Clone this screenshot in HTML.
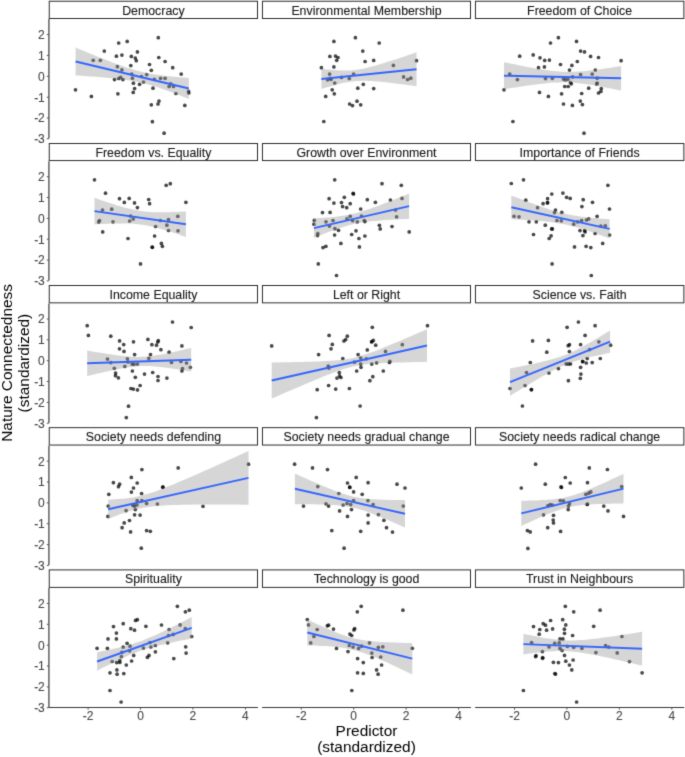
<!DOCTYPE html><html><head><meta charset="utf-8"><style>html,body{margin:0;padding:0;background:#fff;}svg{display:block;will-change:transform;}text{font-family:"Liberation Sans",sans-serif;}</style></head><body>
<svg width="685" height="757" viewBox="0 0 685 757">
<defs><filter id="bl" x="0" y="0" width="685" height="757" filterUnits="userSpaceOnUse" color-interpolation-filters="sRGB"><feConvolveMatrix order="3" kernelMatrix="0.0144 0.0912 0.0144 0.0912 0.5776 0.0912 0.0144 0.0912 0.0144" divisor="1" edgeMode="duplicate" preserveAlpha="true"/></filter></defs><g filter="url(#bl)">
<rect width="685" height="757" fill="#fff"/>
<g fill="#000" fill-opacity="0.72"><circle cx="118.7" cy="43.0" r="1.85"/><circle cx="127.2" cy="41.4" r="1.85"/><circle cx="104.3" cy="51.1" r="1.85"/><circle cx="137.4" cy="51.9" r="1.85"/><circle cx="116.4" cy="56.2" r="1.85"/><circle cx="121.9" cy="55.1" r="1.85"/><circle cx="131.3" cy="56.4" r="1.85"/><circle cx="135.3" cy="58.0" r="1.85"/><circle cx="136.3" cy="60.7" r="1.85"/><circle cx="93.2" cy="60.3" r="1.85"/><circle cx="100.3" cy="60.3" r="1.85"/><circle cx="130.8" cy="65.6" r="1.85"/><circle cx="149.5" cy="64.5" r="1.85"/><circle cx="117.4" cy="66.7" r="1.85"/><circle cx="121.9" cy="69.9" r="1.85"/><circle cx="151.3" cy="70.3" r="1.85"/><circle cx="131.7" cy="74.0" r="1.85"/><circle cx="146.7" cy="74.6" r="1.85"/><circle cx="141.4" cy="76.5" r="1.85"/><circle cx="114.5" cy="79.6" r="1.85"/><circle cx="118.7" cy="78.5" r="1.85"/><circle cx="120.6" cy="77.4" r="1.85"/><circle cx="122.9" cy="79.6" r="1.85"/><circle cx="132.4" cy="78.2" r="1.85"/><circle cx="143.5" cy="82.0" r="1.85"/><circle cx="133.4" cy="83.2" r="1.85"/><circle cx="139.6" cy="84.3" r="1.85"/><circle cx="134.6" cy="88.6" r="1.85"/><circle cx="75.5" cy="89.8" r="1.85"/><circle cx="91.4" cy="96.4" r="1.85"/><circle cx="117.9" cy="93.8" r="1.85"/><circle cx="133.2" cy="92.4" r="1.85"/><circle cx="151.3" cy="104.8" r="1.85"/><circle cx="152.4" cy="121.7" r="1.85"/><circle cx="153.0" cy="88.2" r="1.85"/><circle cx="158.3" cy="37.7" r="1.85"/><circle cx="158.8" cy="57.5" r="1.85"/><circle cx="165.1" cy="61.5" r="1.85"/><circle cx="172.7" cy="67.7" r="1.85"/><circle cx="181.2" cy="74.1" r="1.85"/><circle cx="160.6" cy="78.3" r="1.85"/><circle cx="165.1" cy="78.3" r="1.85"/><circle cx="154.3" cy="79.3" r="1.85"/><circle cx="170.7" cy="83.8" r="1.85"/><circle cx="169.1" cy="86.5" r="1.85"/><circle cx="173.5" cy="86.5" r="1.85"/><circle cx="175.9" cy="93.5" r="1.85"/><circle cx="188.5" cy="91.4" r="1.85"/><circle cx="188.8" cy="93.0" r="1.85"/><circle cx="159.0" cy="101.1" r="1.85"/><circle cx="158.0" cy="104.0" r="1.85"/><circle cx="184.8" cy="105.4" r="1.85"/><circle cx="164.1" cy="133.2" r="1.85"/></g>
<path d="M75.6,47.6 L78.4,48.8 L81.3,50.0 L84.1,51.1 L86.9,52.3 L89.8,53.5 L92.6,54.6 L95.4,55.7 L98.3,56.9 L101.1,58.0 L103.9,59.1 L106.7,60.2 L109.6,61.3 L112.4,62.4 L115.2,63.4 L118.1,64.4 L120.9,65.5 L123.7,66.4 L126.6,67.4 L129.4,68.3 L132.2,69.2 L135.0,70.0 L137.9,70.8 L140.7,71.5 L143.5,72.2 L146.4,72.8 L149.2,73.4 L152.0,73.9 L154.8,74.4 L157.7,74.8 L160.5,75.2 L163.3,75.6 L166.2,76.0 L169.0,76.3 L171.8,76.6 L174.7,76.8 L177.5,77.1 L180.3,77.4 L183.1,77.6 L186.0,77.8 L188.8,78.0 L188.8,98.9 L186.0,97.8 L183.1,96.7 L180.3,95.6 L177.5,94.5 L174.7,93.4 L171.8,92.3 L169.0,91.3 L166.2,90.2 L163.3,89.2 L160.5,88.3 L157.7,87.3 L154.8,86.4 L152.0,85.5 L149.2,84.7 L146.4,83.9 L143.5,83.2 L140.7,82.5 L137.9,81.9 L135.0,81.4 L132.2,80.8 L129.4,80.4 L126.6,79.9 L123.7,79.5 L120.9,79.2 L118.1,78.8 L115.2,78.5 L112.4,78.2 L109.6,78.0 L106.7,77.7 L103.9,77.5 L101.1,77.2 L98.3,77.0 L95.4,76.8 L92.6,76.6 L89.8,76.4 L86.9,76.2 L84.1,76.0 L81.3,75.8 L78.4,75.6 L75.6,75.4Z" fill="#999" fill-opacity="0.4"/>
<line x1="75.6" y1="61.5" x2="188.8" y2="88.5" stroke="#3366FF" stroke-width="1.9"/>
<rect x="49.25" y="1.25" width="208.25" height="17.25" fill="#fff" stroke="#2e2e2e" stroke-width="1.0"/>
<text x="153.4" y="14.7" font-size="12.35" fill="#1a1a1a" stroke="#1a1a1a" stroke-width="0.12" text-anchor="middle">Democracy</text>
<line x1="48.9" y1="19.1" x2="48.9" y2="138.6" stroke="#6a6a6a" stroke-width="1.6"/>
<line x1="46.8" y1="34.6" x2="48.9" y2="34.6" stroke="#555" stroke-width="1"/>
<text x="44.8" y="38.9" font-size="12" fill="#484848" stroke="#484848" stroke-width="0.1" text-anchor="end">2</text>
<line x1="46.8" y1="55.4" x2="48.9" y2="55.4" stroke="#555" stroke-width="1"/>
<text x="44.8" y="59.7" font-size="12" fill="#484848" stroke="#484848" stroke-width="0.1" text-anchor="end">1</text>
<line x1="46.8" y1="76.3" x2="48.9" y2="76.3" stroke="#555" stroke-width="1"/>
<text x="44.8" y="80.6" font-size="12" fill="#484848" stroke="#484848" stroke-width="0.1" text-anchor="end">0</text>
<line x1="46.8" y1="97.2" x2="48.9" y2="97.2" stroke="#555" stroke-width="1"/>
<text x="44.8" y="101.5" font-size="12" fill="#484848" stroke="#484848" stroke-width="0.1" text-anchor="end">-1</text>
<line x1="46.8" y1="118.0" x2="48.9" y2="118.0" stroke="#555" stroke-width="1"/>
<text x="44.8" y="122.3" font-size="12" fill="#484848" stroke="#484848" stroke-width="0.1" text-anchor="end">-2</text>
<line x1="46.8" y1="138.8" x2="48.9" y2="138.8" stroke="#555" stroke-width="1"/>
<text x="44.8" y="143.2" font-size="12" fill="#484848" stroke="#484848" stroke-width="0.1" text-anchor="end">-3</text>
<g fill="#000" fill-opacity="0.72"><circle cx="333.9" cy="41.4" r="1.85"/><circle cx="355.4" cy="37.7" r="1.85"/><circle cx="362.8" cy="51.1" r="1.85"/><circle cx="329.9" cy="56.4" r="1.85"/><circle cx="335.5" cy="56.1" r="1.85"/><circle cx="338.0" cy="57.5" r="1.85"/><circle cx="336.7" cy="60.3" r="1.85"/><circle cx="365.1" cy="61.5" r="1.85"/><circle cx="321.4" cy="67.7" r="1.85"/><circle cx="333.9" cy="66.9" r="1.85"/><circle cx="329.6" cy="74.1" r="1.85"/><circle cx="353.6" cy="74.0" r="1.85"/><circle cx="327.6" cy="79.8" r="1.85"/><circle cx="331.0" cy="79.3" r="1.85"/><circle cx="330.1" cy="78.3" r="1.85"/><circle cx="341.5" cy="77.4" r="1.85"/><circle cx="349.3" cy="78.5" r="1.85"/><circle cx="334.7" cy="83.0" r="1.85"/><circle cx="363.3" cy="84.3" r="1.85"/><circle cx="332.2" cy="89.8" r="1.85"/><circle cx="357.8" cy="88.2" r="1.85"/><circle cx="334.3" cy="93.8" r="1.85"/><circle cx="325.7" cy="96.4" r="1.85"/><circle cx="349.6" cy="104.0" r="1.85"/><circle cx="352.5" cy="105.6" r="1.85"/><circle cx="357.0" cy="101.2" r="1.85"/><circle cx="360.7" cy="104.8" r="1.85"/><circle cx="323.8" cy="121.5" r="1.85"/><circle cx="379.2" cy="43.0" r="1.85"/><circle cx="373.7" cy="60.4" r="1.85"/><circle cx="393.4" cy="65.4" r="1.85"/><circle cx="416.5" cy="60.7" r="1.85"/><circle cx="403.6" cy="76.9" r="1.85"/><circle cx="407.6" cy="79.5" r="1.85"/><circle cx="410.8" cy="78.2" r="1.85"/><circle cx="373.7" cy="88.6" r="1.85"/></g>
<path d="M321.4,68.9 L323.7,69.1 L326.1,69.4 L328.5,69.6 L330.9,69.8 L333.2,70.0 L335.6,70.2 L338.0,70.3 L340.4,70.4 L342.8,70.5 L345.1,70.5 L347.5,70.5 L349.9,70.4 L352.3,70.2 L354.7,70.0 L357.0,69.7 L359.4,69.3 L361.8,68.9 L364.2,68.4 L366.5,67.9 L368.9,67.3 L371.3,66.7 L373.7,66.1 L376.1,65.4 L378.4,64.8 L380.8,64.0 L383.2,63.3 L385.6,62.6 L387.9,61.8 L390.3,61.1 L392.7,60.3 L395.1,59.5 L397.5,58.7 L399.8,57.9 L402.2,57.2 L404.6,56.4 L407.0,55.5 L409.3,54.7 L411.7,53.9 L414.1,53.1 L416.5,52.3 L416.5,86.3 L414.1,86.0 L411.7,85.6 L409.3,85.3 L407.0,85.0 L404.6,84.6 L402.2,84.3 L399.8,84.0 L397.5,83.7 L395.1,83.4 L392.7,83.1 L390.3,82.8 L387.9,82.6 L385.6,82.3 L383.2,82.0 L380.8,81.8 L378.4,81.6 L376.1,81.4 L373.7,81.2 L371.3,81.0 L368.9,80.9 L366.5,80.8 L364.2,80.8 L361.8,80.8 L359.4,80.9 L357.0,81.0 L354.7,81.2 L352.3,81.4 L349.9,81.8 L347.5,82.2 L345.1,82.6 L342.8,83.1 L340.4,83.6 L338.0,84.2 L335.6,84.9 L333.2,85.5 L330.9,86.2 L328.5,86.9 L326.1,87.6 L323.7,88.3 L321.4,89.1Z" fill="#999" fill-opacity="0.4"/>
<line x1="321.4" y1="79.0" x2="416.5" y2="69.3" stroke="#3366FF" stroke-width="1.9"/>
<rect x="262.45" y="1.25" width="208.05" height="17.25" fill="#fff" stroke="#2e2e2e" stroke-width="1.0"/>
<text x="366.5" y="14.7" font-size="12.35" fill="#1a1a1a" stroke="#1a1a1a" stroke-width="0.12" text-anchor="middle">Environmental Membership</text>
<g fill="#000" fill-opacity="0.72"><circle cx="558.4" cy="37.7" r="1.85"/><circle cx="550.5" cy="43.0" r="1.85"/><circle cx="576.5" cy="41.4" r="1.85"/><circle cx="519.7" cy="56.2" r="1.85"/><circle cx="533.2" cy="54.9" r="1.85"/><circle cx="540.0" cy="57.8" r="1.85"/><circle cx="544.7" cy="60.4" r="1.85"/><circle cx="549.4" cy="60.1" r="1.85"/><circle cx="577.3" cy="61.5" r="1.85"/><circle cx="560.5" cy="64.5" r="1.85"/><circle cx="571.9" cy="65.4" r="1.85"/><circle cx="538.5" cy="67.7" r="1.85"/><circle cx="544.4" cy="66.9" r="1.85"/><circle cx="569.5" cy="70.1" r="1.85"/><circle cx="509.7" cy="74.1" r="1.85"/><circle cx="517.4" cy="79.6" r="1.85"/><circle cx="545.5" cy="78.6" r="1.85"/><circle cx="552.3" cy="78.3" r="1.85"/><circle cx="563.4" cy="79.0" r="1.85"/><circle cx="565.3" cy="79.8" r="1.85"/><circle cx="567.9" cy="79.3" r="1.85"/><circle cx="572.6" cy="76.9" r="1.85"/><circle cx="570.5" cy="82.5" r="1.85"/><circle cx="571.3" cy="83.8" r="1.85"/><circle cx="564.7" cy="86.5" r="1.85"/><circle cx="568.2" cy="86.5" r="1.85"/><circle cx="504.0" cy="89.8" r="1.85"/><circle cx="539.5" cy="92.4" r="1.85"/><circle cx="548.4" cy="96.4" r="1.85"/><circle cx="561.6" cy="93.8" r="1.85"/><circle cx="563.5" cy="104.0" r="1.85"/><circle cx="572.4" cy="105.4" r="1.85"/><circle cx="512.9" cy="121.5" r="1.85"/><circle cx="580.6" cy="51.1" r="1.85"/><circle cx="584.5" cy="51.9" r="1.85"/><circle cx="590.6" cy="56.4" r="1.85"/><circle cx="598.5" cy="57.5" r="1.85"/><circle cx="621.1" cy="60.7" r="1.85"/><circle cx="595.3" cy="70.1" r="1.85"/><circle cx="580.6" cy="74.5" r="1.85"/><circle cx="592.2" cy="74.1" r="1.85"/><circle cx="597.2" cy="78.2" r="1.85"/><circle cx="597.2" cy="83.0" r="1.85"/><circle cx="596.7" cy="84.1" r="1.85"/><circle cx="588.7" cy="88.2" r="1.85"/><circle cx="601.3" cy="88.5" r="1.85"/><circle cx="600.9" cy="91.4" r="1.85"/><circle cx="598.5" cy="93.0" r="1.85"/><circle cx="581.7" cy="93.5" r="1.85"/><circle cx="580.3" cy="101.1" r="1.85"/><circle cx="582.4" cy="104.6" r="1.85"/><circle cx="584.0" cy="133.2" r="1.85"/></g>
<path d="M504.0,62.2 L507.0,62.8 L509.9,63.4 L512.8,64.0 L515.7,64.6 L518.7,65.2 L521.6,65.8 L524.5,66.4 L527.4,66.9 L530.4,67.5 L533.3,68.0 L536.2,68.5 L539.2,69.0 L542.1,69.5 L545.0,69.9 L547.9,70.3 L550.9,70.7 L553.8,71.0 L556.7,71.3 L559.6,71.6 L562.6,71.7 L565.5,71.8 L568.4,71.9 L571.3,71.9 L574.3,71.8 L577.2,71.6 L580.1,71.4 L583.1,71.2 L586.0,70.9 L588.9,70.6 L591.8,70.3 L594.8,69.9 L597.7,69.6 L600.6,69.2 L603.5,68.7 L606.5,68.3 L609.4,67.9 L612.3,67.4 L615.2,67.0 L618.2,66.5 L621.1,66.1 L621.1,90.6 L618.2,90.0 L615.2,89.4 L612.3,88.8 L609.4,88.2 L606.5,87.7 L603.5,87.1 L600.6,86.6 L597.7,86.1 L594.8,85.5 L591.8,85.1 L588.9,84.6 L586.0,84.2 L583.1,83.8 L580.1,83.4 L577.2,83.1 L574.3,82.8 L571.3,82.6 L568.4,82.4 L565.5,82.3 L562.6,82.3 L559.6,82.4 L556.7,82.5 L553.8,82.6 L550.9,82.8 L547.9,83.1 L545.0,83.4 L542.1,83.7 L539.2,84.0 L536.2,84.4 L533.3,84.8 L530.4,85.2 L527.4,85.6 L524.5,86.0 L521.6,86.5 L518.7,86.9 L515.7,87.4 L512.8,87.8 L509.9,88.3 L507.0,88.8 L504.0,89.2Z" fill="#999" fill-opacity="0.4"/>
<line x1="504.0" y1="75.7" x2="621.1" y2="78.3" stroke="#3366FF" stroke-width="1.9"/>
<rect x="475.45" y="1.25" width="208.40" height="17.25" fill="#fff" stroke="#2e2e2e" stroke-width="1.0"/>
<text x="579.6" y="14.7" font-size="12.35" fill="#1a1a1a" stroke="#1a1a1a" stroke-width="0.12" text-anchor="middle">Freedom of Choice</text>
<g fill="#000" fill-opacity="0.72"><circle cx="94.5" cy="179.8" r="1.85"/><circle cx="105.5" cy="193.2" r="1.85"/><circle cx="119.5" cy="198.7" r="1.85"/><circle cx="129.2" cy="198.4" r="1.85"/><circle cx="124.3" cy="202.4" r="1.85"/><circle cx="134.5" cy="202.9" r="1.85"/><circle cx="137.4" cy="207.6" r="1.85"/><circle cx="148.7" cy="199.5" r="1.85"/><circle cx="149.6" cy="203.7" r="1.85"/><circle cx="102.5" cy="210.0" r="1.85"/><circle cx="111.7" cy="209.2" r="1.85"/><circle cx="99.5" cy="220.5" r="1.85"/><circle cx="98.7" cy="222.1" r="1.85"/><circle cx="113.0" cy="221.8" r="1.85"/><circle cx="130.5" cy="216.1" r="1.85"/><circle cx="133.2" cy="219.0" r="1.85"/><circle cx="129.6" cy="221.0" r="1.85"/><circle cx="102.7" cy="231.9" r="1.85"/><circle cx="128.0" cy="238.5" r="1.85"/><circle cx="140.5" cy="263.9" r="1.85"/><circle cx="152.2" cy="247.1" r="1.85"/><circle cx="152.4" cy="247.3" r="1.85"/><circle cx="166.2" cy="185.3" r="1.85"/><circle cx="170.3" cy="183.7" r="1.85"/><circle cx="185.9" cy="202.3" r="1.85"/><circle cx="177.8" cy="216.3" r="1.85"/><circle cx="160.4" cy="220.5" r="1.85"/><circle cx="168.5" cy="219.5" r="1.85"/><circle cx="166.9" cy="225.2" r="1.85"/><circle cx="155.6" cy="226.5" r="1.85"/><circle cx="168.5" cy="230.5" r="1.85"/><circle cx="178.0" cy="230.8" r="1.85"/><circle cx="154.6" cy="236.0" r="1.85"/><circle cx="161.4" cy="243.4" r="1.85"/><circle cx="162.4" cy="246.3" r="1.85"/></g>
<path d="M94.5,197.8 L96.8,198.6 L99.1,199.4 L101.3,200.2 L103.6,201.0 L105.9,201.8 L108.2,202.5 L110.5,203.3 L112.8,204.0 L115.1,204.7 L117.3,205.4 L119.6,206.1 L121.9,206.7 L124.2,207.4 L126.5,208.0 L128.8,208.6 L131.1,209.1 L133.3,209.6 L135.6,210.1 L137.9,210.5 L140.2,210.9 L142.5,211.2 L144.8,211.5 L147.1,211.7 L149.3,211.9 L151.6,212.1 L153.9,212.2 L156.2,212.3 L158.5,212.3 L160.8,212.3 L163.0,212.3 L165.3,212.3 L167.6,212.3 L169.9,212.2 L172.2,212.1 L174.5,212.1 L176.8,212.0 L179.0,211.8 L181.3,211.7 L183.6,211.6 L185.9,211.4 L185.9,236.9 L183.6,236.2 L181.3,235.4 L179.0,234.6 L176.8,233.8 L174.5,233.1 L172.2,232.3 L169.9,231.6 L167.6,230.9 L165.3,230.2 L163.0,229.5 L160.8,228.9 L158.5,228.2 L156.2,227.6 L153.9,227.1 L151.6,226.5 L149.3,226.0 L147.1,225.6 L144.8,225.2 L142.5,224.8 L140.2,224.5 L137.9,224.2 L135.6,224.0 L133.3,223.8 L131.1,223.6 L128.8,223.5 L126.5,223.4 L124.2,223.4 L121.9,223.4 L119.6,223.4 L117.3,223.4 L115.1,223.4 L112.8,223.5 L110.5,223.6 L108.2,223.7 L105.9,223.8 L103.6,223.9 L101.3,224.0 L99.1,224.1 L96.8,224.3 L94.5,224.4Z" fill="#999" fill-opacity="0.4"/>
<line x1="94.5" y1="211.1" x2="185.9" y2="224.2" stroke="#3366FF" stroke-width="1.9"/>
<rect x="49.25" y="143.50" width="208.25" height="17.05" fill="#fff" stroke="#2e2e2e" stroke-width="1.0"/>
<text x="153.4" y="156.9" font-size="12.35" fill="#1a1a1a" stroke="#1a1a1a" stroke-width="0.12" text-anchor="middle">Freedom vs. Equality</text>
<line x1="48.9" y1="161.2" x2="48.9" y2="280.6" stroke="#6a6a6a" stroke-width="1.6"/>
<line x1="46.8" y1="176.7" x2="48.9" y2="176.7" stroke="#555" stroke-width="1"/>
<text x="44.8" y="181.0" font-size="12" fill="#484848" stroke="#484848" stroke-width="0.1" text-anchor="end">2</text>
<line x1="46.8" y1="197.5" x2="48.9" y2="197.5" stroke="#555" stroke-width="1"/>
<text x="44.8" y="201.8" font-size="12" fill="#484848" stroke="#484848" stroke-width="0.1" text-anchor="end">1</text>
<line x1="46.8" y1="218.4" x2="48.9" y2="218.4" stroke="#555" stroke-width="1"/>
<text x="44.8" y="222.7" font-size="12" fill="#484848" stroke="#484848" stroke-width="0.1" text-anchor="end">0</text>
<line x1="46.8" y1="239.2" x2="48.9" y2="239.2" stroke="#555" stroke-width="1"/>
<text x="44.8" y="243.5" font-size="12" fill="#484848" stroke="#484848" stroke-width="0.1" text-anchor="end">-1</text>
<line x1="46.8" y1="260.1" x2="48.9" y2="260.1" stroke="#555" stroke-width="1"/>
<text x="44.8" y="264.4" font-size="12" fill="#484848" stroke="#484848" stroke-width="0.1" text-anchor="end">-2</text>
<line x1="46.8" y1="280.9" x2="48.9" y2="280.9" stroke="#555" stroke-width="1"/>
<text x="44.8" y="285.2" font-size="12" fill="#484848" stroke="#484848" stroke-width="0.1" text-anchor="end">-3</text>
<g fill="#000" fill-opacity="0.72"><circle cx="334.7" cy="179.8" r="1.85"/><circle cx="353.1" cy="193.4" r="1.85"/><circle cx="353.5" cy="193.9" r="1.85"/><circle cx="329.1" cy="198.7" r="1.85"/><circle cx="344.3" cy="197.3" r="1.85"/><circle cx="333.9" cy="203.1" r="1.85"/><circle cx="341.5" cy="202.6" r="1.85"/><circle cx="350.2" cy="203.7" r="1.85"/><circle cx="342.6" cy="206.6" r="1.85"/><circle cx="346.7" cy="207.7" r="1.85"/><circle cx="360.7" cy="209.0" r="1.85"/><circle cx="322.5" cy="212.6" r="1.85"/><circle cx="330.1" cy="212.4" r="1.85"/><circle cx="314.3" cy="220.3" r="1.85"/><circle cx="313.9" cy="224.2" r="1.85"/><circle cx="326.0" cy="221.8" r="1.85"/><circle cx="333.0" cy="220.5" r="1.85"/><circle cx="329.4" cy="226.1" r="1.85"/><circle cx="350.2" cy="216.3" r="1.85"/><circle cx="347.0" cy="218.9" r="1.85"/><circle cx="352.6" cy="220.6" r="1.85"/><circle cx="357.3" cy="221.8" r="1.85"/><circle cx="361.5" cy="216.0" r="1.85"/><circle cx="364.3" cy="220.5" r="1.85"/><circle cx="364.9" cy="221.6" r="1.85"/><circle cx="334.9" cy="228.7" r="1.85"/><circle cx="338.5" cy="230.3" r="1.85"/><circle cx="317.8" cy="233.5" r="1.85"/><circle cx="317.5" cy="235.6" r="1.85"/><circle cx="334.6" cy="235.0" r="1.85"/><circle cx="356.0" cy="230.8" r="1.85"/><circle cx="351.7" cy="234.5" r="1.85"/><circle cx="358.9" cy="238.5" r="1.85"/><circle cx="364.9" cy="236.0" r="1.85"/><circle cx="340.9" cy="243.4" r="1.85"/><circle cx="323.0" cy="247.6" r="1.85"/><circle cx="325.9" cy="246.3" r="1.85"/><circle cx="359.4" cy="246.9" r="1.85"/><circle cx="318.3" cy="263.9" r="1.85"/><circle cx="336.5" cy="275.5" r="1.85"/><circle cx="382.0" cy="183.7" r="1.85"/><circle cx="401.3" cy="185.3" r="1.85"/><circle cx="367.3" cy="199.7" r="1.85"/><circle cx="375.4" cy="202.3" r="1.85"/><circle cx="390.4" cy="200.0" r="1.85"/><circle cx="402.0" cy="198.4" r="1.85"/><circle cx="395.5" cy="210.0" r="1.85"/><circle cx="396.6" cy="216.8" r="1.85"/><circle cx="379.4" cy="225.3" r="1.85"/><circle cx="380.2" cy="228.9" r="1.85"/><circle cx="392.0" cy="226.5" r="1.85"/><circle cx="409.2" cy="231.9" r="1.85"/></g>
<path d="M313.9,218.4 L316.3,218.3 L318.7,218.1 L321.1,218.0 L323.4,217.8 L325.8,217.6 L328.2,217.4 L330.6,217.2 L333.0,217.0 L335.3,216.7 L337.7,216.4 L340.1,216.1 L342.5,215.8 L344.9,215.4 L347.2,215.0 L349.6,214.5 L352.0,214.0 L354.4,213.5 L356.7,212.9 L359.1,212.2 L361.5,211.6 L363.9,210.8 L366.3,210.1 L368.6,209.3 L371.0,208.5 L373.4,207.6 L375.8,206.7 L378.1,205.9 L380.5,205.0 L382.9,204.0 L385.3,203.1 L387.7,202.2 L390.0,201.2 L392.4,200.3 L394.8,199.3 L397.2,198.3 L399.6,197.3 L401.9,196.4 L404.3,195.4 L406.7,194.4 L409.1,193.4 L409.1,218.9 L406.7,219.0 L404.3,219.1 L401.9,219.2 L399.6,219.3 L397.2,219.4 L394.8,219.5 L392.4,219.7 L390.0,219.8 L387.7,220.0 L385.3,220.1 L382.9,220.3 L380.5,220.5 L378.1,220.7 L375.8,220.9 L373.4,221.1 L371.0,221.3 L368.6,221.6 L366.3,221.9 L363.9,222.3 L361.5,222.6 L359.1,223.0 L356.7,223.5 L354.4,224.0 L352.0,224.5 L349.6,225.1 L347.2,225.8 L344.9,226.5 L342.5,227.2 L340.1,227.9 L337.7,228.7 L335.3,229.5 L333.0,230.4 L330.6,231.2 L328.2,232.1 L325.8,233.0 L323.4,233.9 L321.1,234.9 L318.7,235.8 L316.3,236.8 L313.9,237.7Z" fill="#999" fill-opacity="0.4"/>
<line x1="313.9" y1="228.1" x2="409.1" y2="206.1" stroke="#3366FF" stroke-width="1.9"/>
<rect x="262.45" y="143.50" width="208.05" height="17.05" fill="#fff" stroke="#2e2e2e" stroke-width="1.0"/>
<text x="366.5" y="156.9" font-size="12.35" fill="#1a1a1a" stroke="#1a1a1a" stroke-width="0.12" text-anchor="middle">Growth over Environment</text>
<g fill="#000" fill-opacity="0.72"><circle cx="511.3" cy="183.5" r="1.85"/><circle cx="523.5" cy="179.8" r="1.85"/><circle cx="551.8" cy="194.0" r="1.85"/><circle cx="562.9" cy="193.1" r="1.85"/><circle cx="566.6" cy="197.3" r="1.85"/><circle cx="570.2" cy="198.4" r="1.85"/><circle cx="525.8" cy="200.2" r="1.85"/><circle cx="547.6" cy="198.7" r="1.85"/><circle cx="543.1" cy="203.7" r="1.85"/><circle cx="547.4" cy="202.9" r="1.85"/><circle cx="547.6" cy="202.6" r="1.85"/><circle cx="537.6" cy="207.7" r="1.85"/><circle cx="555.5" cy="210.0" r="1.85"/><circle cx="554.5" cy="212.6" r="1.85"/><circle cx="561.8" cy="212.4" r="1.85"/><circle cx="514.0" cy="216.3" r="1.85"/><circle cx="519.0" cy="216.8" r="1.85"/><circle cx="529.0" cy="221.8" r="1.85"/><circle cx="536.3" cy="221.8" r="1.85"/><circle cx="556.9" cy="220.5" r="1.85"/><circle cx="561.3" cy="220.8" r="1.85"/><circle cx="573.7" cy="224.2" r="1.85"/><circle cx="577.6" cy="221.8" r="1.85"/><circle cx="545.3" cy="225.2" r="1.85"/><circle cx="551.6" cy="228.9" r="1.85"/><circle cx="552.4" cy="228.9" r="1.85"/><circle cx="533.5" cy="234.5" r="1.85"/><circle cx="551.1" cy="235.8" r="1.85"/><circle cx="549.2" cy="238.5" r="1.85"/><circle cx="574.5" cy="246.9" r="1.85"/><circle cx="552.1" cy="263.9" r="1.85"/><circle cx="607.9" cy="185.3" r="1.85"/><circle cx="583.2" cy="199.7" r="1.85"/><circle cx="592.5" cy="202.3" r="1.85"/><circle cx="581.9" cy="206.6" r="1.85"/><circle cx="609.5" cy="209.0" r="1.85"/><circle cx="597.1" cy="216.3" r="1.85"/><circle cx="581.6" cy="220.5" r="1.85"/><circle cx="586.4" cy="220.0" r="1.85"/><circle cx="588.7" cy="218.9" r="1.85"/><circle cx="600.8" cy="226.1" r="1.85"/><circle cx="605.3" cy="225.8" r="1.85"/><circle cx="580.0" cy="230.6" r="1.85"/><circle cx="584.6" cy="230.6" r="1.85"/><circle cx="585.1" cy="231.9" r="1.85"/><circle cx="582.9" cy="235.6" r="1.85"/><circle cx="595.1" cy="233.5" r="1.85"/><circle cx="609.6" cy="235.0" r="1.85"/><circle cx="602.7" cy="243.4" r="1.85"/><circle cx="586.1" cy="246.3" r="1.85"/><circle cx="590.8" cy="247.6" r="1.85"/><circle cx="591.3" cy="275.5" r="1.85"/></g>
<path d="M511.3,195.4 L513.7,196.4 L516.2,197.3 L518.7,198.2 L521.1,199.2 L523.6,200.1 L526.0,201.0 L528.5,202.0 L531.0,202.9 L533.4,203.8 L535.9,204.7 L538.3,205.5 L540.8,206.4 L543.3,207.2 L545.7,208.1 L548.2,208.9 L550.6,209.7 L553.1,210.4 L555.5,211.2 L558.0,211.9 L560.5,212.5 L562.9,213.1 L565.4,213.7 L567.8,214.3 L570.3,214.8 L572.8,215.3 L575.2,215.7 L577.7,216.1 L580.1,216.5 L582.6,216.8 L585.1,217.1 L587.5,217.4 L590.0,217.7 L592.4,217.9 L594.9,218.1 L597.4,218.3 L599.8,218.5 L602.3,218.7 L604.7,218.9 L607.2,219.1 L609.6,219.2 L609.6,238.5 L607.2,237.6 L604.7,236.7 L602.3,235.8 L599.8,234.9 L597.4,234.0 L594.9,233.1 L592.4,232.3 L590.0,231.4 L587.5,230.6 L585.1,229.8 L582.6,229.1 L580.1,228.3 L577.7,227.6 L575.2,226.9 L572.8,226.3 L570.3,225.7 L567.8,225.1 L565.4,224.6 L562.9,224.1 L560.5,223.6 L558.0,223.2 L555.5,222.8 L553.1,222.5 L550.6,222.1 L548.2,221.8 L545.7,221.6 L543.3,221.3 L540.8,221.1 L538.3,220.9 L535.9,220.7 L533.4,220.5 L531.0,220.3 L528.5,220.1 L526.0,220.0 L523.6,219.8 L521.1,219.7 L518.7,219.5 L516.2,219.4 L513.7,219.2 L511.3,219.1Z" fill="#999" fill-opacity="0.4"/>
<line x1="511.3" y1="207.3" x2="609.6" y2="228.9" stroke="#3366FF" stroke-width="1.9"/>
<rect x="475.45" y="143.50" width="208.40" height="17.05" fill="#fff" stroke="#2e2e2e" stroke-width="1.0"/>
<text x="579.6" y="156.9" font-size="12.35" fill="#1a1a1a" stroke="#1a1a1a" stroke-width="0.12" text-anchor="middle">Importance of Friends</text>
<g fill="#000" fill-opacity="0.72"><circle cx="87.2" cy="325.7" r="1.85"/><circle cx="88.4" cy="335.4" r="1.85"/><circle cx="110.8" cy="336.2" r="1.85"/><circle cx="119.6" cy="340.9" r="1.85"/><circle cx="123.7" cy="344.6" r="1.85"/><circle cx="133.5" cy="341.8" r="1.85"/><circle cx="147.9" cy="339.4" r="1.85"/><circle cx="151.9" cy="344.7" r="1.85"/><circle cx="119.5" cy="348.8" r="1.85"/><circle cx="124.0" cy="351.4" r="1.85"/><circle cx="134.6" cy="354.6" r="1.85"/><circle cx="150.5" cy="354.6" r="1.85"/><circle cx="107.5" cy="359.1" r="1.85"/><circle cx="127.4" cy="358.8" r="1.85"/><circle cx="148.8" cy="358.3" r="1.85"/><circle cx="110.8" cy="362.6" r="1.85"/><circle cx="128.0" cy="362.0" r="1.85"/><circle cx="132.1" cy="364.1" r="1.85"/><circle cx="134.0" cy="364.3" r="1.85"/><circle cx="137.4" cy="364.1" r="1.85"/><circle cx="114.3" cy="368.3" r="1.85"/><circle cx="124.8" cy="366.4" r="1.85"/><circle cx="132.4" cy="371.0" r="1.85"/><circle cx="115.6" cy="373.0" r="1.85"/><circle cx="115.5" cy="375.7" r="1.85"/><circle cx="118.4" cy="377.8" r="1.85"/><circle cx="135.3" cy="377.3" r="1.85"/><circle cx="144.5" cy="374.1" r="1.85"/><circle cx="152.7" cy="372.5" r="1.85"/><circle cx="140.1" cy="385.5" r="1.85"/><circle cx="130.9" cy="388.5" r="1.85"/><circle cx="133.4" cy="389.1" r="1.85"/><circle cx="137.5" cy="389.9" r="1.85"/><circle cx="128.5" cy="406.2" r="1.85"/><circle cx="126.3" cy="417.6" r="1.85"/><circle cx="172.5" cy="322.0" r="1.85"/><circle cx="191.2" cy="327.5" r="1.85"/><circle cx="158.3" cy="340.7" r="1.85"/><circle cx="157.8" cy="342.0" r="1.85"/><circle cx="156.5" cy="345.2" r="1.85"/><circle cx="181.9" cy="345.9" r="1.85"/><circle cx="160.9" cy="349.7" r="1.85"/><circle cx="169.1" cy="352.2" r="1.85"/><circle cx="171.5" cy="362.5" r="1.85"/><circle cx="180.9" cy="361.4" r="1.85"/><circle cx="186.5" cy="363.0" r="1.85"/><circle cx="190.3" cy="367.3" r="1.85"/><circle cx="182.5" cy="368.6" r="1.85"/><circle cx="181.9" cy="371.0" r="1.85"/><circle cx="158.0" cy="376.5" r="1.85"/><circle cx="158.0" cy="380.5" r="1.85"/><circle cx="166.9" cy="378.1" r="1.85"/></g>
<path d="M87.2,350.5 L89.8,351.0 L92.4,351.4 L95.0,351.9 L97.6,352.3 L100.2,352.7 L102.8,353.1 L105.4,353.5 L108.0,353.9 L110.6,354.3 L113.2,354.7 L115.8,355.1 L118.4,355.4 L121.0,355.7 L123.6,356.0 L126.2,356.3 L128.8,356.5 L131.4,356.7 L134.0,356.8 L136.6,356.9 L139.2,356.9 L141.8,356.8 L144.4,356.7 L147.0,356.5 L149.6,356.2 L152.2,355.9 L154.8,355.5 L157.4,355.1 L160.0,354.7 L162.6,354.2 L165.2,353.7 L167.8,353.1 L170.4,352.6 L173.0,352.0 L175.6,351.5 L178.2,350.9 L180.8,350.3 L183.4,349.7 L186.0,349.1 L188.6,348.5 L191.2,347.9 L191.2,371.6 L188.6,371.2 L186.0,370.7 L183.4,370.3 L180.8,369.9 L178.2,369.5 L175.6,369.1 L173.0,368.7 L170.4,368.3 L167.8,367.9 L165.2,367.6 L162.6,367.3 L160.0,367.0 L157.4,366.7 L154.8,366.4 L152.2,366.2 L149.6,366.1 L147.0,366.0 L144.4,366.0 L141.8,366.0 L139.2,366.1 L136.6,366.3 L134.0,366.6 L131.4,366.9 L128.8,367.2 L126.2,367.6 L123.6,368.1 L121.0,368.6 L118.4,369.1 L115.8,369.6 L113.2,370.1 L110.6,370.7 L108.0,371.2 L105.4,371.8 L102.8,372.4 L100.2,373.0 L97.6,373.6 L95.0,374.2 L92.4,374.8 L89.8,375.4 L87.2,376.0Z" fill="#999" fill-opacity="0.4"/>
<line x1="87.2" y1="363.3" x2="191.2" y2="359.7" stroke="#3366FF" stroke-width="1.9"/>
<rect x="49.25" y="285.50" width="208.25" height="17.35" fill="#fff" stroke="#2e2e2e" stroke-width="1.0"/>
<text x="153.4" y="298.9" font-size="12.35" fill="#1a1a1a" stroke="#1a1a1a" stroke-width="0.12" text-anchor="middle">Income Equality</text>
<line x1="48.9" y1="303.5" x2="48.9" y2="423.0" stroke="#6a6a6a" stroke-width="1.6"/>
<line x1="46.8" y1="319.0" x2="48.9" y2="319.0" stroke="#555" stroke-width="1"/>
<text x="44.8" y="323.3" font-size="12" fill="#484848" stroke="#484848" stroke-width="0.1" text-anchor="end">2</text>
<line x1="46.8" y1="339.8" x2="48.9" y2="339.8" stroke="#555" stroke-width="1"/>
<text x="44.8" y="344.1" font-size="12" fill="#484848" stroke="#484848" stroke-width="0.1" text-anchor="end">1</text>
<line x1="46.8" y1="360.7" x2="48.9" y2="360.7" stroke="#555" stroke-width="1"/>
<text x="44.8" y="365.0" font-size="12" fill="#484848" stroke="#484848" stroke-width="0.1" text-anchor="end">0</text>
<line x1="46.8" y1="381.5" x2="48.9" y2="381.5" stroke="#555" stroke-width="1"/>
<text x="44.8" y="385.8" font-size="12" fill="#484848" stroke="#484848" stroke-width="0.1" text-anchor="end">-1</text>
<line x1="46.8" y1="402.4" x2="48.9" y2="402.4" stroke="#555" stroke-width="1"/>
<text x="44.8" y="406.7" font-size="12" fill="#484848" stroke="#484848" stroke-width="0.1" text-anchor="end">-2</text>
<line x1="46.8" y1="423.2" x2="48.9" y2="423.2" stroke="#555" stroke-width="1"/>
<text x="44.8" y="427.5" font-size="12" fill="#484848" stroke="#484848" stroke-width="0.1" text-anchor="end">-3</text>
<g fill="#000" fill-opacity="0.72"><circle cx="271.7" cy="345.9" r="1.85"/><circle cx="329.1" cy="335.4" r="1.85"/><circle cx="347.3" cy="336.2" r="1.85"/><circle cx="345.7" cy="339.6" r="1.85"/><circle cx="343.9" cy="341.0" r="1.85"/><circle cx="332.3" cy="344.4" r="1.85"/><circle cx="331.0" cy="348.8" r="1.85"/><circle cx="318.6" cy="354.6" r="1.85"/><circle cx="342.8" cy="358.5" r="1.85"/><circle cx="358.1" cy="354.6" r="1.85"/><circle cx="360.7" cy="358.1" r="1.85"/><circle cx="354.4" cy="362.2" r="1.85"/><circle cx="360.7" cy="364.1" r="1.85"/><circle cx="361.0" cy="367.3" r="1.85"/><circle cx="328.3" cy="366.2" r="1.85"/><circle cx="328.9" cy="368.1" r="1.85"/><circle cx="356.7" cy="371.0" r="1.85"/><circle cx="339.3" cy="372.6" r="1.85"/><circle cx="339.6" cy="375.9" r="1.85"/><circle cx="340.9" cy="377.5" r="1.85"/><circle cx="337.0" cy="378.1" r="1.85"/><circle cx="328.6" cy="385.5" r="1.85"/><circle cx="317.2" cy="389.7" r="1.85"/><circle cx="335.7" cy="389.1" r="1.85"/><circle cx="349.4" cy="388.5" r="1.85"/><circle cx="360.1" cy="406.0" r="1.85"/><circle cx="316.4" cy="417.6" r="1.85"/><circle cx="372.3" cy="327.3" r="1.85"/><circle cx="427.5" cy="325.7" r="1.85"/><circle cx="373.3" cy="340.4" r="1.85"/><circle cx="371.6" cy="342.0" r="1.85"/><circle cx="371.8" cy="341.5" r="1.85"/><circle cx="375.7" cy="345.2" r="1.85"/><circle cx="367.3" cy="349.9" r="1.85"/><circle cx="385.5" cy="351.4" r="1.85"/><circle cx="402.3" cy="344.7" r="1.85"/><circle cx="366.3" cy="358.8" r="1.85"/><circle cx="371.8" cy="364.1" r="1.85"/><circle cx="376.6" cy="362.8" r="1.85"/><circle cx="389.9" cy="361.4" r="1.85"/><circle cx="389.4" cy="362.5" r="1.85"/><circle cx="383.3" cy="371.0" r="1.85"/><circle cx="372.8" cy="376.7" r="1.85"/><circle cx="369.9" cy="380.7" r="1.85"/></g>
<path d="M271.7,362.5 L275.6,362.5 L279.4,362.4 L283.3,362.3 L287.2,362.3 L291.1,362.2 L295.0,362.1 L298.9,362.0 L302.7,361.9 L306.6,361.8 L310.5,361.7 L314.4,361.5 L318.3,361.4 L322.1,361.2 L326.0,361.0 L329.9,360.8 L333.8,360.5 L337.7,360.2 L341.6,359.8 L345.4,359.3 L349.3,358.7 L353.2,357.9 L357.1,356.9 L361.0,355.8 L364.9,354.6 L368.7,353.3 L372.6,351.9 L376.5,350.4 L380.4,348.9 L384.3,347.3 L388.1,345.7 L392.0,344.1 L395.9,342.5 L399.8,340.9 L403.7,339.2 L407.6,337.6 L411.4,335.9 L415.3,334.3 L419.2,332.6 L423.1,330.9 L427.0,329.2 L427.0,361.8 L423.1,361.9 L419.2,362.0 L415.3,362.1 L411.4,362.2 L407.6,362.3 L403.7,362.4 L399.8,362.5 L395.9,362.6 L392.0,362.7 L388.1,362.9 L384.3,363.0 L380.4,363.2 L376.5,363.5 L372.6,363.7 L368.7,364.1 L364.9,364.5 L361.0,365.0 L357.1,365.7 L353.2,366.5 L349.3,367.4 L345.4,368.6 L341.6,369.8 L337.7,371.1 L333.8,372.6 L329.9,374.0 L326.0,375.6 L322.1,377.1 L318.3,378.7 L314.4,380.3 L310.5,381.9 L306.6,383.6 L302.7,385.2 L298.9,386.9 L295.0,388.5 L291.1,390.2 L287.2,391.8 L283.3,393.5 L279.4,395.2 L275.6,396.9 L271.7,398.5Z" fill="#999" fill-opacity="0.4"/>
<line x1="271.7" y1="380.5" x2="427.0" y2="345.5" stroke="#3366FF" stroke-width="1.9"/>
<rect x="262.45" y="285.50" width="208.05" height="17.35" fill="#fff" stroke="#2e2e2e" stroke-width="1.0"/>
<text x="366.5" y="298.9" font-size="12.35" fill="#1a1a1a" stroke="#1a1a1a" stroke-width="0.12" text-anchor="middle">Left or Right</text>
<g fill="#000" fill-opacity="0.72"><circle cx="578.4" cy="322.0" r="1.85"/><circle cx="567.1" cy="327.3" r="1.85"/><circle cx="532.6" cy="340.9" r="1.85"/><circle cx="548.4" cy="340.4" r="1.85"/><circle cx="568.2" cy="345.7" r="1.85"/><circle cx="569.5" cy="344.7" r="1.85"/><circle cx="546.8" cy="352.2" r="1.85"/><circle cx="569.4" cy="351.5" r="1.85"/><circle cx="530.3" cy="362.5" r="1.85"/><circle cx="526.5" cy="372.5" r="1.85"/><circle cx="548.9" cy="373.0" r="1.85"/><circle cx="558.4" cy="368.6" r="1.85"/><circle cx="566.1" cy="363.9" r="1.85"/><circle cx="568.5" cy="363.9" r="1.85"/><circle cx="570.5" cy="363.9" r="1.85"/><circle cx="568.4" cy="380.7" r="1.85"/><circle cx="510.0" cy="388.5" r="1.85"/><circle cx="525.0" cy="385.5" r="1.85"/><circle cx="531.3" cy="389.6" r="1.85"/><circle cx="531.5" cy="389.7" r="1.85"/><circle cx="522.4" cy="406.0" r="1.85"/><circle cx="595.1" cy="325.7" r="1.85"/><circle cx="585.1" cy="335.4" r="1.85"/><circle cx="580.6" cy="344.6" r="1.85"/><circle cx="598.8" cy="341.8" r="1.85"/><circle cx="589.6" cy="349.6" r="1.85"/><circle cx="610.6" cy="345.2" r="1.85"/><circle cx="587.2" cy="358.5" r="1.85"/><circle cx="600.3" cy="358.5" r="1.85"/><circle cx="582.9" cy="361.7" r="1.85"/><circle cx="582.5" cy="361.4" r="1.85"/><circle cx="586.3" cy="363.0" r="1.85"/><circle cx="592.2" cy="362.6" r="1.85"/><circle cx="580.6" cy="367.3" r="1.85"/><circle cx="580.9" cy="374.1" r="1.85"/><circle cx="580.3" cy="378.3" r="1.85"/></g>
<path d="M510.0,368.5 L512.5,368.0 L515.0,367.5 L517.5,367.0 L520.0,366.5 L522.5,366.0 L525.0,365.5 L527.5,365.0 L530.0,364.5 L532.5,363.9 L535.0,363.4 L537.5,362.8 L540.0,362.3 L542.5,361.7 L545.0,361.1 L547.5,360.4 L550.1,359.8 L552.6,359.1 L555.1,358.3 L557.6,357.6 L560.1,356.7 L562.6,355.8 L565.1,354.9 L567.6,353.9 L570.1,352.8 L572.6,351.7 L575.1,350.5 L577.6,349.2 L580.1,347.9 L582.6,346.6 L585.1,345.2 L587.6,343.8 L590.1,342.4 L592.6,341.0 L595.1,339.5 L597.6,338.0 L600.1,336.5 L602.6,335.1 L605.1,333.6 L607.6,332.0 L610.1,330.5 L610.1,352.8 L607.6,353.3 L605.1,353.8 L602.6,354.4 L600.1,354.9 L597.6,355.4 L595.1,356.0 L592.6,356.6 L590.1,357.1 L587.6,357.8 L585.1,358.4 L582.6,359.0 L580.1,359.7 L577.6,360.5 L575.1,361.2 L572.6,362.1 L570.1,362.9 L567.6,363.9 L565.1,364.9 L562.6,366.0 L560.1,367.1 L557.6,368.3 L555.1,369.5 L552.6,370.8 L550.1,372.2 L547.5,373.5 L545.0,374.9 L542.5,376.3 L540.0,377.8 L537.5,379.2 L535.0,380.7 L532.5,382.2 L530.0,383.7 L527.5,385.2 L525.0,386.7 L522.5,388.2 L520.0,389.7 L517.5,391.3 L515.0,392.8 L512.5,394.3 L510.0,395.9Z" fill="#999" fill-opacity="0.4"/>
<line x1="510.0" y1="382.2" x2="610.1" y2="341.7" stroke="#3366FF" stroke-width="1.9"/>
<rect x="475.45" y="285.50" width="208.40" height="17.35" fill="#fff" stroke="#2e2e2e" stroke-width="1.0"/>
<text x="579.6" y="298.9" font-size="12.35" fill="#1a1a1a" stroke="#1a1a1a" stroke-width="0.12" text-anchor="middle">Science vs. Faith</text>
<g fill="#000" fill-opacity="0.72"><circle cx="141.9" cy="469.6" r="1.85"/><circle cx="131.3" cy="477.4" r="1.85"/><circle cx="113.4" cy="482.7" r="1.85"/><circle cx="119.6" cy="484.2" r="1.85"/><circle cx="118.5" cy="486.7" r="1.85"/><circle cx="137.2" cy="483.0" r="1.85"/><circle cx="133.5" cy="488.0" r="1.85"/><circle cx="131.4" cy="492.1" r="1.85"/><circle cx="141.6" cy="493.5" r="1.85"/><circle cx="108.8" cy="494.3" r="1.85"/><circle cx="108.2" cy="506.1" r="1.85"/><circle cx="107.9" cy="516.4" r="1.85"/><circle cx="137.2" cy="500.5" r="1.85"/><circle cx="141.9" cy="500.5" r="1.85"/><circle cx="132.9" cy="505.3" r="1.85"/><circle cx="134.5" cy="506.1" r="1.85"/><circle cx="136.9" cy="505.0" r="1.85"/><circle cx="146.6" cy="503.4" r="1.85"/><circle cx="126.1" cy="510.6" r="1.85"/><circle cx="135.3" cy="509.6" r="1.85"/><circle cx="134.6" cy="514.8" r="1.85"/><circle cx="140.1" cy="515.1" r="1.85"/><circle cx="129.5" cy="520.5" r="1.85"/><circle cx="124.2" cy="522.9" r="1.85"/><circle cx="122.1" cy="527.7" r="1.85"/><circle cx="130.6" cy="531.9" r="1.85"/><circle cx="146.6" cy="530.6" r="1.85"/><circle cx="150.3" cy="531.3" r="1.85"/><circle cx="141.3" cy="548.2" r="1.85"/><circle cx="178.2" cy="467.9" r="1.85"/><circle cx="163.0" cy="487.1" r="1.85"/><circle cx="162.7" cy="487.2" r="1.85"/><circle cx="157.4" cy="504.0" r="1.85"/><circle cx="203.0" cy="506.3" r="1.85"/><circle cx="248.5" cy="464.2" r="1.85"/></g>
<path d="M108.2,499.7 L111.7,499.6 L115.2,499.3 L118.7,499.1 L122.2,498.8 L125.7,498.4 L129.2,498.0 L132.7,497.4 L136.3,496.8 L139.8,496.0 L143.3,495.1 L146.8,494.1 L150.3,493.1 L153.8,491.9 L157.3,490.7 L160.8,489.4 L164.3,488.0 L167.8,486.6 L171.3,485.2 L174.8,483.8 L178.3,482.3 L181.8,480.8 L185.4,479.3 L188.9,477.8 L192.4,476.3 L195.9,474.7 L199.4,473.2 L202.9,471.6 L206.4,470.0 L209.9,468.5 L213.4,466.9 L216.9,465.3 L220.4,463.8 L223.9,462.2 L227.4,460.6 L230.9,459.0 L234.5,457.4 L238.0,455.8 L241.5,454.2 L245.0,452.6 L248.5,451.0 L248.5,504.7 L245.0,504.7 L241.5,504.7 L238.0,504.6 L234.5,504.6 L230.9,504.6 L227.4,504.6 L223.9,504.6 L220.4,504.6 L216.9,504.6 L213.4,504.6 L209.9,504.6 L206.4,504.6 L202.9,504.6 L199.4,504.6 L195.9,504.6 L192.4,504.6 L188.9,504.7 L185.4,504.7 L181.8,504.8 L178.3,504.9 L174.8,505.0 L171.3,505.1 L167.8,505.3 L164.3,505.5 L160.8,505.7 L157.3,506.0 L153.8,506.3 L150.3,506.7 L146.8,507.2 L143.3,507.8 L139.8,508.5 L136.3,509.3 L132.7,510.2 L129.2,511.3 L125.7,512.4 L122.2,513.6 L118.7,514.8 L115.2,516.2 L111.7,517.5 L108.2,518.9Z" fill="#999" fill-opacity="0.4"/>
<line x1="108.2" y1="509.3" x2="248.5" y2="477.9" stroke="#3366FF" stroke-width="1.9"/>
<rect x="49.25" y="427.65" width="208.25" height="17.40" fill="#fff" stroke="#2e2e2e" stroke-width="1.0"/>
<text x="153.4" y="441.0" font-size="12.35" fill="#1a1a1a" stroke="#1a1a1a" stroke-width="0.12" text-anchor="middle">Society needs defending</text>
<line x1="48.9" y1="445.7" x2="48.9" y2="565.1" stroke="#6a6a6a" stroke-width="1.6"/>
<line x1="46.8" y1="461.2" x2="48.9" y2="461.2" stroke="#555" stroke-width="1"/>
<text x="44.8" y="465.5" font-size="12" fill="#484848" stroke="#484848" stroke-width="0.1" text-anchor="end">2</text>
<line x1="46.8" y1="482.0" x2="48.9" y2="482.0" stroke="#555" stroke-width="1"/>
<text x="44.8" y="486.3" font-size="12" fill="#484848" stroke="#484848" stroke-width="0.1" text-anchor="end">1</text>
<line x1="46.8" y1="502.9" x2="48.9" y2="502.9" stroke="#555" stroke-width="1"/>
<text x="44.8" y="507.2" font-size="12" fill="#484848" stroke="#484848" stroke-width="0.1" text-anchor="end">0</text>
<line x1="46.8" y1="523.7" x2="48.9" y2="523.7" stroke="#555" stroke-width="1"/>
<text x="44.8" y="528.0" font-size="12" fill="#484848" stroke="#484848" stroke-width="0.1" text-anchor="end">-1</text>
<line x1="46.8" y1="544.6" x2="48.9" y2="544.6" stroke="#555" stroke-width="1"/>
<text x="44.8" y="548.9" font-size="12" fill="#484848" stroke="#484848" stroke-width="0.1" text-anchor="end">-2</text>
<line x1="46.8" y1="565.4" x2="48.9" y2="565.4" stroke="#555" stroke-width="1"/>
<text x="44.8" y="569.7" font-size="12" fill="#484848" stroke="#484848" stroke-width="0.1" text-anchor="end">-3</text>
<g fill="#000" fill-opacity="0.72"><circle cx="294.6" cy="464.2" r="1.85"/><circle cx="312.5" cy="467.9" r="1.85"/><circle cx="327.5" cy="469.6" r="1.85"/><circle cx="356.2" cy="477.4" r="1.85"/><circle cx="347.5" cy="483.0" r="1.85"/><circle cx="349.6" cy="487.1" r="1.85"/><circle cx="349.9" cy="487.4" r="1.85"/><circle cx="353.6" cy="491.9" r="1.85"/><circle cx="362.2" cy="494.3" r="1.85"/><circle cx="317.8" cy="486.6" r="1.85"/><circle cx="338.8" cy="493.5" r="1.85"/><circle cx="353.6" cy="500.5" r="1.85"/><circle cx="326.0" cy="503.8" r="1.85"/><circle cx="328.6" cy="506.1" r="1.85"/><circle cx="303.5" cy="506.1" r="1.85"/><circle cx="343.1" cy="505.0" r="1.85"/><circle cx="347.0" cy="503.5" r="1.85"/><circle cx="350.7" cy="504.6" r="1.85"/><circle cx="351.5" cy="509.6" r="1.85"/><circle cx="339.6" cy="510.9" r="1.85"/><circle cx="347.5" cy="516.4" r="1.85"/><circle cx="331.8" cy="530.6" r="1.85"/><circle cx="360.7" cy="531.3" r="1.85"/><circle cx="344.1" cy="548.2" r="1.85"/><circle cx="368.1" cy="482.7" r="1.85"/><circle cx="397.0" cy="484.2" r="1.85"/><circle cx="405.0" cy="488.0" r="1.85"/><circle cx="367.9" cy="500.6" r="1.85"/><circle cx="373.1" cy="504.6" r="1.85"/><circle cx="403.3" cy="506.1" r="1.85"/><circle cx="368.1" cy="515.1" r="1.85"/><circle cx="378.4" cy="514.6" r="1.85"/><circle cx="383.9" cy="520.3" r="1.85"/><circle cx="368.1" cy="522.9" r="1.85"/><circle cx="386.5" cy="527.7" r="1.85"/><circle cx="392.5" cy="532.1" r="1.85"/></g>
<path d="M294.9,473.5 L297.7,474.7 L300.4,476.0 L303.2,477.2 L305.9,478.5 L308.7,479.7 L311.4,480.9 L314.2,482.1 L316.9,483.3 L319.7,484.5 L322.4,485.7 L325.2,486.8 L327.9,488.0 L330.7,489.1 L333.4,490.2 L336.2,491.2 L339.0,492.2 L341.7,493.2 L344.5,494.1 L347.2,494.9 L350.0,495.7 L352.7,496.4 L355.5,497.0 L358.2,497.5 L361.0,498.0 L363.7,498.3 L366.5,498.7 L369.2,498.9 L372.0,499.2 L374.7,499.3 L377.5,499.5 L380.3,499.6 L383.0,499.7 L385.8,499.8 L388.5,499.9 L391.3,499.9 L394.0,500.0 L396.8,500.0 L399.5,500.1 L402.3,500.1 L405.0,500.1 L405.0,527.6 L402.3,526.4 L399.5,525.1 L396.8,523.9 L394.0,522.7 L391.3,521.5 L388.5,520.3 L385.8,519.1 L383.0,518.0 L380.3,516.8 L377.5,515.7 L374.7,514.6 L372.0,513.5 L369.2,512.5 L366.5,511.5 L363.7,510.6 L361.0,509.7 L358.2,508.9 L355.5,508.2 L352.7,507.6 L350.0,507.0 L347.2,506.5 L344.5,506.1 L341.7,505.8 L339.0,505.5 L336.2,505.2 L333.4,505.0 L330.7,504.9 L327.9,504.7 L325.2,504.6 L322.4,504.5 L319.7,504.4 L316.9,504.4 L314.2,504.3 L311.4,504.3 L308.7,504.2 L305.9,504.2 L303.2,504.2 L300.4,504.2 L297.7,504.2 L294.9,504.2Z" fill="#999" fill-opacity="0.4"/>
<line x1="294.9" y1="488.8" x2="405.0" y2="513.8" stroke="#3366FF" stroke-width="1.9"/>
<rect x="262.45" y="427.65" width="208.05" height="17.40" fill="#fff" stroke="#2e2e2e" stroke-width="1.0"/>
<text x="366.5" y="441.0" font-size="12.35" fill="#1a1a1a" stroke="#1a1a1a" stroke-width="0.12" text-anchor="middle">Society needs gradual change</text>
<g fill="#000" fill-opacity="0.72"><circle cx="535.6" cy="464.2" r="1.85"/><circle cx="565.3" cy="477.5" r="1.85"/><circle cx="570.2" cy="483.0" r="1.85"/><circle cx="545.3" cy="484.2" r="1.85"/><circle cx="521.3" cy="488.0" r="1.85"/><circle cx="561.0" cy="486.9" r="1.85"/><circle cx="561.5" cy="487.4" r="1.85"/><circle cx="560.2" cy="500.6" r="1.85"/><circle cx="563.4" cy="500.8" r="1.85"/><circle cx="547.9" cy="505.8" r="1.85"/><circle cx="550.2" cy="504.6" r="1.85"/><circle cx="552.4" cy="505.0" r="1.85"/><circle cx="569.5" cy="503.7" r="1.85"/><circle cx="568.5" cy="506.1" r="1.85"/><circle cx="568.2" cy="509.6" r="1.85"/><circle cx="543.5" cy="514.8" r="1.85"/><circle cx="553.5" cy="515.3" r="1.85"/><circle cx="553.2" cy="520.1" r="1.85"/><circle cx="553.5" cy="523.0" r="1.85"/><circle cx="547.7" cy="527.7" r="1.85"/><circle cx="560.6" cy="531.4" r="1.85"/><circle cx="527.4" cy="530.6" r="1.85"/><circle cx="530.2" cy="531.9" r="1.85"/><circle cx="527.9" cy="548.4" r="1.85"/><circle cx="589.3" cy="467.9" r="1.85"/><circle cx="607.4" cy="469.5" r="1.85"/><circle cx="587.5" cy="482.7" r="1.85"/><circle cx="585.8" cy="494.3" r="1.85"/><circle cx="588.7" cy="493.2" r="1.85"/><circle cx="590.8" cy="491.9" r="1.85"/><circle cx="587.1" cy="504.5" r="1.85"/><circle cx="587.5" cy="504.0" r="1.85"/><circle cx="603.8" cy="506.1" r="1.85"/><circle cx="608.0" cy="510.9" r="1.85"/><circle cx="621.7" cy="486.6" r="1.85"/><circle cx="623.5" cy="516.4" r="1.85"/></g>
<path d="M521.3,500.8 L523.8,500.8 L526.4,500.7 L529.0,500.6 L531.5,500.5 L534.1,500.5 L536.6,500.4 L539.2,500.2 L541.7,500.1 L544.3,500.0 L546.8,499.8 L549.4,499.6 L552.0,499.4 L554.5,499.1 L557.1,498.7 L559.6,498.4 L562.2,497.9 L564.7,497.4 L567.3,496.8 L569.8,496.2 L572.4,495.5 L575.0,494.7 L577.5,493.8 L580.1,492.9 L582.6,492.0 L585.2,491.0 L587.7,490.0 L590.3,488.9 L592.8,487.8 L595.4,486.7 L598.0,485.6 L600.5,484.5 L603.1,483.3 L605.6,482.2 L608.2,481.0 L610.7,479.8 L613.3,478.6 L615.8,477.5 L618.4,476.3 L621.0,475.1 L623.5,473.9 L623.5,503.5 L621.0,503.5 L618.4,503.6 L615.8,503.6 L613.3,503.6 L610.7,503.7 L608.2,503.8 L605.6,503.8 L603.1,503.9 L600.5,504.0 L598.0,504.1 L595.4,504.2 L592.8,504.3 L590.3,504.5 L587.7,504.7 L585.2,504.9 L582.6,505.1 L580.1,505.4 L577.5,505.7 L575.0,506.1 L572.4,506.6 L569.8,507.1 L567.3,507.7 L564.7,508.3 L562.2,509.0 L559.6,509.8 L557.1,510.7 L554.5,511.6 L552.0,512.6 L549.4,513.5 L546.8,514.6 L544.3,515.6 L541.7,516.7 L539.2,517.8 L536.6,518.9 L534.1,520.1 L531.5,521.2 L529.0,522.4 L526.4,523.6 L523.8,524.7 L521.3,525.9Z" fill="#999" fill-opacity="0.4"/>
<line x1="521.3" y1="513.4" x2="623.5" y2="488.7" stroke="#3366FF" stroke-width="1.9"/>
<rect x="475.45" y="427.65" width="208.40" height="17.40" fill="#fff" stroke="#2e2e2e" stroke-width="1.0"/>
<text x="579.6" y="441.0" font-size="12.35" fill="#1a1a1a" stroke="#1a1a1a" stroke-width="0.12" text-anchor="middle">Society needs radical change</text>
<g fill="#000" fill-opacity="0.72"><circle cx="135.5" cy="620.4" r="1.85"/><circle cx="137.4" cy="619.7" r="1.85"/><circle cx="123.2" cy="623.7" r="1.85"/><circle cx="113.5" cy="626.6" r="1.85"/><circle cx="145.9" cy="626.3" r="1.85"/><circle cx="130.8" cy="628.7" r="1.85"/><circle cx="134.5" cy="630.2" r="1.85"/><circle cx="116.4" cy="633.1" r="1.85"/><circle cx="108.0" cy="638.9" r="1.85"/><circle cx="116.4" cy="638.9" r="1.85"/><circle cx="97.1" cy="648.3" r="1.85"/><circle cx="107.4" cy="648.3" r="1.85"/><circle cx="127.1" cy="643.3" r="1.85"/><circle cx="123.2" cy="647.1" r="1.85"/><circle cx="130.0" cy="646.2" r="1.85"/><circle cx="129.6" cy="650.8" r="1.85"/><circle cx="121.9" cy="652.3" r="1.85"/><circle cx="121.4" cy="656.6" r="1.85"/><circle cx="133.7" cy="655.4" r="1.85"/><circle cx="143.4" cy="648.1" r="1.85"/><circle cx="150.0" cy="642.5" r="1.85"/><circle cx="150.9" cy="647.0" r="1.85"/><circle cx="112.2" cy="661.5" r="1.85"/><circle cx="116.7" cy="662.6" r="1.85"/><circle cx="119.8" cy="662.5" r="1.85"/><circle cx="119.8" cy="660.7" r="1.85"/><circle cx="131.6" cy="661.0" r="1.85"/><circle cx="126.3" cy="665.0" r="1.85"/><circle cx="147.4" cy="657.3" r="1.85"/><circle cx="149.0" cy="655.4" r="1.85"/><circle cx="110.0" cy="672.8" r="1.85"/><circle cx="116.9" cy="669.9" r="1.85"/><circle cx="117.1" cy="674.2" r="1.85"/><circle cx="123.8" cy="673.6" r="1.85"/><circle cx="110.0" cy="690.5" r="1.85"/><circle cx="121.1" cy="702.0" r="1.85"/><circle cx="177.4" cy="606.3" r="1.85"/><circle cx="185.4" cy="611.8" r="1.85"/><circle cx="189.3" cy="610.2" r="1.85"/><circle cx="161.5" cy="625.0" r="1.85"/><circle cx="180.1" cy="624.9" r="1.85"/><circle cx="169.1" cy="629.5" r="1.85"/><circle cx="185.3" cy="628.7" r="1.85"/><circle cx="168.5" cy="635.5" r="1.85"/><circle cx="173.2" cy="634.4" r="1.85"/><circle cx="191.7" cy="636.5" r="1.85"/><circle cx="155.3" cy="645.5" r="1.85"/><circle cx="167.7" cy="642.8" r="1.85"/><circle cx="155.4" cy="651.8" r="1.85"/><circle cx="185.7" cy="646.8" r="1.85"/><circle cx="186.1" cy="653.1" r="1.85"/><circle cx="173.8" cy="658.6" r="1.85"/></g>
<path d="M97.1,652.3 L99.4,651.8 L101.8,651.3 L104.2,650.8 L106.5,650.3 L108.9,649.8 L111.3,649.3 L113.6,648.8 L116.0,648.3 L118.4,647.7 L120.7,647.1 L123.1,646.5 L125.5,645.9 L127.8,645.3 L130.2,644.6 L132.6,643.9 L134.9,643.1 L137.3,642.3 L139.7,641.5 L142.0,640.7 L144.4,639.8 L146.8,638.8 L149.1,637.8 L151.5,636.8 L153.9,635.8 L156.2,634.7 L158.6,633.7 L160.9,632.5 L163.3,631.4 L165.7,630.3 L168.0,629.1 L170.4,627.9 L172.8,626.8 L175.1,625.6 L177.5,624.4 L179.9,623.2 L182.2,622.0 L184.6,620.8 L187.0,619.5 L189.3,618.3 L191.7,617.1 L191.7,638.5 L189.3,638.9 L187.0,639.4 L184.6,639.9 L182.2,640.3 L179.9,640.8 L177.5,641.3 L175.1,641.8 L172.8,642.3 L170.4,642.8 L168.0,643.3 L165.7,643.8 L163.3,644.4 L160.9,644.9 L158.6,645.5 L156.2,646.1 L153.9,646.7 L151.5,647.4 L149.1,648.0 L146.8,648.8 L144.4,649.5 L142.0,650.3 L139.7,651.1 L137.3,652.0 L134.9,652.9 L132.6,653.8 L130.2,654.8 L127.8,655.8 L125.5,656.8 L123.1,657.9 L120.7,659.0 L118.4,660.1 L116.0,661.2 L113.6,662.4 L111.3,663.5 L108.9,664.7 L106.5,665.9 L104.2,667.1 L101.8,668.3 L99.4,669.5 L97.1,670.7Z" fill="#999" fill-opacity="0.4"/>
<line x1="97.1" y1="661.5" x2="191.7" y2="627.8" stroke="#3366FF" stroke-width="1.9"/>
<rect x="49.25" y="569.90" width="208.25" height="17.50" fill="#fff" stroke="#2e2e2e" stroke-width="1.0"/>
<text x="153.4" y="583.3" font-size="12.35" fill="#1a1a1a" stroke="#1a1a1a" stroke-width="0.12" text-anchor="middle">Spirituality</text>
<line x1="48.9" y1="588.0" x2="48.9" y2="707.5" stroke="#6a6a6a" stroke-width="1.6"/>
<line x1="46.8" y1="603.5" x2="48.9" y2="603.5" stroke="#555" stroke-width="1"/>
<text x="44.8" y="607.8" font-size="12" fill="#484848" stroke="#484848" stroke-width="0.1" text-anchor="end">2</text>
<line x1="46.8" y1="624.3" x2="48.9" y2="624.3" stroke="#555" stroke-width="1"/>
<text x="44.8" y="628.6" font-size="12" fill="#484848" stroke="#484848" stroke-width="0.1" text-anchor="end">1</text>
<line x1="46.8" y1="645.2" x2="48.9" y2="645.2" stroke="#555" stroke-width="1"/>
<text x="44.8" y="649.5" font-size="12" fill="#484848" stroke="#484848" stroke-width="0.1" text-anchor="end">0</text>
<line x1="46.8" y1="666.0" x2="48.9" y2="666.0" stroke="#555" stroke-width="1"/>
<text x="44.8" y="670.3" font-size="12" fill="#484848" stroke="#484848" stroke-width="0.1" text-anchor="end">-1</text>
<line x1="46.8" y1="686.9" x2="48.9" y2="686.9" stroke="#555" stroke-width="1"/>
<text x="44.8" y="691.2" font-size="12" fill="#484848" stroke="#484848" stroke-width="0.1" text-anchor="end">-2</text>
<line x1="46.8" y1="707.7" x2="48.9" y2="707.7" stroke="#555" stroke-width="1"/>
<text x="44.8" y="712.0" font-size="12" fill="#484848" stroke="#484848" stroke-width="0.1" text-anchor="end">-3</text>
<line x1="48.9" y1="707.5" x2="257.9" y2="707.5" stroke="#383838" stroke-width="1.1"/>
<line x1="88.1" y1="707.4" x2="88.1" y2="709.6" stroke="#555" stroke-width="1"/>
<text x="88.1" y="719.8" font-size="12" fill="#484848" stroke="#484848" stroke-width="0.1" text-anchor="middle">-2</text>
<line x1="140.5" y1="707.4" x2="140.5" y2="709.6" stroke="#555" stroke-width="1"/>
<text x="140.5" y="719.8" font-size="12" fill="#484848" stroke="#484848" stroke-width="0.1" text-anchor="middle">0</text>
<line x1="192.9" y1="707.4" x2="192.9" y2="709.6" stroke="#555" stroke-width="1"/>
<text x="192.9" y="719.8" font-size="12" fill="#484848" stroke="#484848" stroke-width="0.1" text-anchor="middle">2</text>
<line x1="245.4" y1="707.4" x2="245.4" y2="709.6" stroke="#555" stroke-width="1"/>
<text x="245.4" y="719.8" font-size="12" fill="#484848" stroke="#484848" stroke-width="0.1" text-anchor="middle">4</text>
<g fill="#000" fill-opacity="0.72"><circle cx="361.2" cy="606.3" r="1.85"/><circle cx="357.3" cy="611.8" r="1.85"/><circle cx="307.3" cy="619.5" r="1.85"/><circle cx="308.5" cy="624.9" r="1.85"/><circle cx="317.2" cy="629.5" r="1.85"/><circle cx="327.3" cy="625.8" r="1.85"/><circle cx="328.6" cy="625.2" r="1.85"/><circle cx="333.5" cy="629.1" r="1.85"/><circle cx="354.7" cy="628.7" r="1.85"/><circle cx="353.9" cy="629.9" r="1.85"/><circle cx="349.9" cy="634.1" r="1.85"/><circle cx="351.7" cy="635.5" r="1.85"/><circle cx="313.9" cy="636.5" r="1.85"/><circle cx="310.7" cy="642.9" r="1.85"/><circle cx="336.5" cy="648.4" r="1.85"/><circle cx="349.3" cy="645.5" r="1.85"/><circle cx="353.1" cy="647.0" r="1.85"/><circle cx="358.6" cy="648.4" r="1.85"/><circle cx="361.7" cy="646.2" r="1.85"/><circle cx="348.0" cy="651.6" r="1.85"/><circle cx="357.6" cy="658.6" r="1.85"/><circle cx="363.3" cy="662.6" r="1.85"/><circle cx="357.6" cy="672.8" r="1.85"/><circle cx="363.3" cy="673.4" r="1.85"/><circle cx="351.8" cy="690.5" r="1.85"/><circle cx="402.9" cy="610.2" r="1.85"/><circle cx="369.5" cy="642.9" r="1.85"/><circle cx="378.4" cy="647.3" r="1.85"/><circle cx="382.8" cy="646.8" r="1.85"/><circle cx="412.3" cy="648.3" r="1.85"/><circle cx="371.8" cy="653.1" r="1.85"/><circle cx="372.1" cy="657.5" r="1.85"/><circle cx="380.7" cy="657.0" r="1.85"/><circle cx="381.6" cy="665.0" r="1.85"/><circle cx="376.6" cy="669.9" r="1.85"/><circle cx="378.1" cy="674.2" r="1.85"/></g>
<path d="M307.3,619.6 L309.9,620.8 L312.6,622.0 L315.2,623.2 L317.8,624.4 L320.4,625.6 L323.1,626.8 L325.7,628.0 L328.3,629.1 L330.9,630.2 L333.6,631.3 L336.2,632.4 L338.8,633.4 L341.4,634.4 L344.1,635.3 L346.7,636.2 L349.3,637.0 L351.9,637.7 L354.6,638.4 L357.2,639.0 L359.8,639.5 L362.4,640.0 L365.1,640.4 L367.7,640.7 L370.3,641.0 L372.9,641.3 L375.6,641.5 L378.2,641.7 L380.8,641.9 L383.4,642.1 L386.0,642.2 L388.7,642.3 L391.3,642.4 L393.9,642.5 L396.5,642.6 L399.2,642.7 L401.8,642.8 L404.4,642.9 L407.0,642.9 L409.7,643.0 L412.3,643.0 L412.3,674.4 L409.7,673.2 L407.0,671.9 L404.4,670.7 L401.8,669.4 L399.2,668.2 L396.5,667.0 L393.9,665.7 L391.3,664.5 L388.7,663.3 L386.0,662.1 L383.4,661.0 L380.8,659.8 L378.2,658.7 L375.6,657.6 L372.9,656.5 L370.3,655.4 L367.7,654.4 L365.1,653.5 L362.4,652.5 L359.8,651.7 L357.2,650.9 L354.6,650.2 L351.9,649.5 L349.3,649.0 L346.7,648.5 L344.1,648.0 L341.4,647.6 L338.8,647.3 L336.2,647.0 L333.6,646.7 L330.9,646.5 L328.3,646.3 L325.7,646.1 L323.1,646.0 L320.4,645.9 L317.8,645.7 L315.2,645.6 L312.6,645.5 L309.9,645.4 L307.3,645.4Z" fill="#999" fill-opacity="0.4"/>
<line x1="307.3" y1="632.5" x2="412.3" y2="658.7" stroke="#3366FF" stroke-width="1.9"/>
<rect x="262.45" y="569.90" width="208.05" height="17.50" fill="#fff" stroke="#2e2e2e" stroke-width="1.0"/>
<text x="366.5" y="583.3" font-size="12.35" fill="#1a1a1a" stroke="#1a1a1a" stroke-width="0.12" text-anchor="middle">Technology is good</text>
<line x1="262.1" y1="707.5" x2="470.9" y2="707.5" stroke="#383838" stroke-width="1.1"/>
<line x1="301.3" y1="707.4" x2="301.3" y2="709.6" stroke="#555" stroke-width="1"/>
<text x="301.3" y="719.8" font-size="12" fill="#484848" stroke="#484848" stroke-width="0.1" text-anchor="middle">-2</text>
<line x1="353.7" y1="707.4" x2="353.7" y2="709.6" stroke="#555" stroke-width="1"/>
<text x="353.7" y="719.8" font-size="12" fill="#484848" stroke="#484848" stroke-width="0.1" text-anchor="middle">0</text>
<line x1="406.1" y1="707.4" x2="406.1" y2="709.6" stroke="#555" stroke-width="1"/>
<text x="406.1" y="719.8" font-size="12" fill="#484848" stroke="#484848" stroke-width="0.1" text-anchor="middle">2</text>
<line x1="458.6" y1="707.4" x2="458.6" y2="709.6" stroke="#555" stroke-width="1"/>
<text x="458.6" y="719.8" font-size="12" fill="#484848" stroke="#484848" stroke-width="0.1" text-anchor="middle">4</text>
<g fill="#000" fill-opacity="0.72"><circle cx="565.3" cy="606.3" r="1.85"/><circle cx="573.7" cy="611.8" r="1.85"/><circle cx="550.6" cy="620.5" r="1.85"/><circle cx="562.7" cy="619.7" r="1.85"/><circle cx="543.2" cy="623.7" r="1.85"/><circle cx="545.5" cy="625.2" r="1.85"/><circle cx="533.5" cy="626.6" r="1.85"/><circle cx="539.8" cy="629.5" r="1.85"/><circle cx="546.6" cy="630.2" r="1.85"/><circle cx="552.6" cy="628.9" r="1.85"/><circle cx="565.8" cy="624.9" r="1.85"/><circle cx="564.4" cy="629.2" r="1.85"/><circle cx="564.5" cy="633.3" r="1.85"/><circle cx="539.2" cy="634.2" r="1.85"/><circle cx="572.6" cy="635.5" r="1.85"/><circle cx="560.0" cy="638.9" r="1.85"/><circle cx="562.9" cy="638.9" r="1.85"/><circle cx="531.6" cy="642.6" r="1.85"/><circle cx="554.7" cy="643.3" r="1.85"/><circle cx="559.2" cy="642.9" r="1.85"/><circle cx="549.0" cy="647.0" r="1.85"/><circle cx="560.0" cy="648.4" r="1.85"/><circle cx="562.1" cy="650.5" r="1.85"/><circle cx="567.4" cy="646.3" r="1.85"/><circle cx="573.7" cy="647.3" r="1.85"/><circle cx="542.4" cy="651.6" r="1.85"/><circle cx="536.0" cy="655.7" r="1.85"/><circle cx="535.6" cy="656.6" r="1.85"/><circle cx="542.7" cy="657.5" r="1.85"/><circle cx="542.6" cy="658.3" r="1.85"/><circle cx="564.5" cy="655.4" r="1.85"/><circle cx="565.8" cy="661.2" r="1.85"/><circle cx="553.4" cy="662.3" r="1.85"/><circle cx="558.4" cy="662.6" r="1.85"/><circle cx="573.1" cy="660.0" r="1.85"/><circle cx="569.4" cy="665.0" r="1.85"/><circle cx="571.8" cy="669.9" r="1.85"/><circle cx="554.8" cy="673.6" r="1.85"/><circle cx="555.6" cy="674.1" r="1.85"/><circle cx="523.4" cy="690.5" r="1.85"/><circle cx="576.6" cy="702.0" r="1.85"/><circle cx="600.1" cy="610.2" r="1.85"/><circle cx="593.7" cy="626.3" r="1.85"/><circle cx="621.9" cy="636.5" r="1.85"/><circle cx="605.6" cy="645.7" r="1.85"/><circle cx="608.8" cy="647.0" r="1.85"/><circle cx="581.9" cy="648.3" r="1.85"/><circle cx="595.9" cy="652.6" r="1.85"/><circle cx="617.2" cy="652.9" r="1.85"/><circle cx="629.5" cy="661.6" r="1.85"/><circle cx="642.1" cy="672.8" r="1.85"/></g>
<path d="M523.4,633.8 L526.4,634.4 L529.3,635.0 L532.3,635.6 L535.3,636.2 L538.2,636.8 L541.2,637.4 L544.2,637.9 L547.1,638.4 L550.1,638.8 L553.1,639.3 L556.0,639.6 L559.0,639.9 L562.0,640.1 L564.9,640.3 L567.9,640.4 L570.9,640.4 L573.8,640.4 L576.8,640.3 L579.8,640.1 L582.7,639.9 L585.7,639.7 L588.7,639.4 L591.6,639.1 L594.6,638.7 L597.6,638.4 L600.5,638.0 L603.5,637.6 L606.5,637.2 L609.4,636.8 L612.4,636.4 L615.4,635.9 L618.3,635.5 L621.3,635.1 L624.3,634.6 L627.2,634.2 L630.2,633.7 L633.2,633.2 L636.1,632.8 L639.1,632.3 L642.1,631.8 L642.1,665.6 L639.1,664.9 L636.1,664.2 L633.2,663.5 L630.2,662.8 L627.2,662.2 L624.3,661.5 L621.3,660.8 L618.3,660.1 L615.4,659.4 L612.4,658.8 L609.4,658.1 L606.5,657.5 L603.5,656.8 L600.5,656.2 L597.6,655.6 L594.6,655.0 L591.6,654.4 L588.7,653.9 L585.7,653.4 L582.7,652.9 L579.8,652.5 L576.8,652.1 L573.8,651.7 L570.9,651.5 L567.9,651.2 L564.9,651.1 L562.0,651.0 L559.0,651.0 L556.0,651.1 L553.1,651.2 L550.1,651.4 L547.1,651.6 L544.2,651.9 L541.2,652.2 L538.2,652.5 L535.3,652.8 L532.3,653.2 L529.3,653.6 L526.4,654.0 L523.4,654.4Z" fill="#999" fill-opacity="0.4"/>
<line x1="523.4" y1="644.1" x2="642.1" y2="648.7" stroke="#3366FF" stroke-width="1.9"/>
<rect x="475.45" y="569.90" width="208.40" height="17.50" fill="#fff" stroke="#2e2e2e" stroke-width="1.0"/>
<text x="579.6" y="583.3" font-size="12.35" fill="#1a1a1a" stroke="#1a1a1a" stroke-width="0.12" text-anchor="middle">Trust in Neighbours</text>
<line x1="475.1" y1="707.5" x2="684.2" y2="707.5" stroke="#383838" stroke-width="1.1"/>
<line x1="514.5" y1="707.4" x2="514.5" y2="709.6" stroke="#555" stroke-width="1"/>
<text x="514.5" y="719.8" font-size="12" fill="#484848" stroke="#484848" stroke-width="0.1" text-anchor="middle">-2</text>
<line x1="566.9" y1="707.4" x2="566.9" y2="709.6" stroke="#555" stroke-width="1"/>
<text x="566.9" y="719.8" font-size="12" fill="#484848" stroke="#484848" stroke-width="0.1" text-anchor="middle">0</text>
<line x1="619.3" y1="707.4" x2="619.3" y2="709.6" stroke="#555" stroke-width="1"/>
<text x="619.3" y="719.8" font-size="12" fill="#484848" stroke="#484848" stroke-width="0.1" text-anchor="middle">2</text>
<line x1="671.8" y1="707.4" x2="671.8" y2="709.6" stroke="#555" stroke-width="1"/>
<text x="671.8" y="719.8" font-size="12" fill="#484848" stroke="#484848" stroke-width="0.1" text-anchor="middle">4</text>
<text x="366.5" y="735.6" font-size="15.45" fill="#000" stroke="#000" stroke-width="0" text-anchor="middle">Predictor</text>
<text x="366.5" y="752.0" font-size="15.45" fill="#000" stroke="#000" stroke-width="0" text-anchor="middle">(standardized)</text>
<text transform="translate(12.3,362.9) rotate(-90)" font-size="15.45" fill="#000" stroke="#000" stroke-width="0" text-anchor="middle">Nature Connectedness</text>
<text transform="translate(29.0,363.1) rotate(-90)" font-size="15.45" fill="#000" stroke="#000" stroke-width="0" text-anchor="middle">(standardized)</text>
</g></svg></body></html>
